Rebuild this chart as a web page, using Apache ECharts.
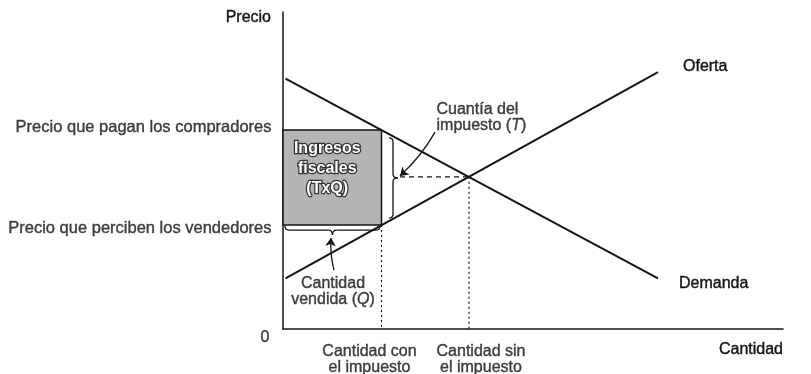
<!DOCTYPE html>
<html>
<head>
<meta charset="utf-8">
<script src="https://cdn.jsdelivr.net/npm/echarts@6/dist/echarts.min.js"></script>
<style>
  html, body { margin: 0; padding: 0; background: #fff; }
  #chart { width: 811px; height: 374px; }
</style>
</head>
<body>
<div id="chart"></div>
<script>
// curvas (unidades del eje: cantidad 0-100, precio 0-100)
const demandPts = [[0.5, 79], [75, 16]];
const supplyPts = [[0.5, 16], [75, 81]];

// puntos clave
const qTax = 19.7;      // cantidad con el impuesto
const qEq = 37.2;       // cantidad sin el impuesto
const pBuyers = 62.8;   // precio que pagan los compradores
const pSellers = 32.8;  // precio que perciben los vendedores
const pEq = 48;         // precio de equilibrio

// llaves: [x1, y1, x2, y2] (la punta queda a la derecha del recorrido)
const braces = [
  [22.0, 60.3, 22.0, 35.0],   // cuantia del impuesto (vertical)
  [19.4, 31.2, 0.4, 31.2]     // cantidad vendida (horizontal)
];
const braceTipX = 23.4;

// flechas: [desde, hasta]
const arrows = [
  [[30.4, 62.1], [23.4, 48.3]],
  [[10.2, 18.6], [9.6, 28.7]]
];

// textos
const priceLabels = ['Precio que pagan los compradores', 'Precio que perciben los vendedores'];
const qtyLabels = ['Cantidad con\nel impuesto', 'Cantidad sin\nel impuesto'];
const curveNames = ['Demanda', 'Oferta'];
const boxText = 'Ingresos\nfiscales\n(TxQ)';

const FONT = '"Liberation Sans", Arial, sans-serif';
const INK = '#141414';

const chart = echarts.init(document.getElementById('chart'));

function braceItem(params, api) {
  const p1 = api.coord([api.value(0), api.value(1)]);
  const p2 = api.coord([api.value(2), api.value(3)]);
  const dx = p2[0] - p1[0], dy = p2[1] - p1[1];
  const L = Math.sqrt(dx * dx + dy * dy);
  const u = [dx / L, dy / L];
  const n = [u[1], -u[0]];
  const m = L / 2;
  const P = (s, h) => [p1[0] + u[0] * s + n[0] * h, p1[1] + u[1] * s + n[1] * h];
  const style = { stroke: INK, lineWidth: 1.3, fill: null };
  const curve = (a, c, b) => ({
    type: 'bezierCurve',
    shape: { x1: a[0], y1: a[1], cpx1: c[0], cpy1: c[1], x2: b[0], y2: b[1] },
    style: style
  });
  const seg = (a, b) => ({
    type: 'line',
    shape: { x1: a[0], y1: a[1], x2: b[0], y2: b[1] },
    style: style
  });
  return {
    type: 'group',
    children: [
      curve(P(0, -4), P(0, 0), P(4, 0)),
      seg(P(4, 0), P(m - 4, 0)),
      curve(P(m - 4, 0), P(m, 0), P(m, 5)),
      curve(P(m, 5), P(m, 0), P(m + 4, 0)),
      seg(P(m + 4, 0), P(L - 4, 0)),
      curve(P(L - 4, 0), P(L, 0), P(L, -4))
    ]
  };
}

const textStyle = {
  fontFamily: FONT, fontSize: 16, color: INK,
  textBorderColor: INK, textBorderWidth: 0.4
};

chart.setOption({
  animation: false,
  backgroundColor: '#fff',
  grid: { left: 283, right: 28, top: 12, bottom: 45 },
  xAxis: {
    type: 'value', min: 0, max: 100,
    name: 'Cantidad',
    nameLocation: 'end',
    nameGap: 0,
    nameTextStyle: Object.assign({}, textStyle, { align: 'right', verticalAlign: 'top', padding: [13, 0, 0, 0] }),
    axisLine: { lineStyle: { color: INK, width: 1.5 } },
    axisTick: { show: false },
    axisLabel: { show: false },
    splitLine: { show: false }
  },
  yAxis: {
    type: 'value', min: 0, max: 100,
    name: 'Precio',
    nameLocation: 'end',
    nameGap: -6,
    nameTextStyle: Object.assign({}, textStyle, { align: 'right', verticalAlign: 'middle', padding: [0, 12, 0, 0] }),
    axisLine: { show: true, lineStyle: { color: INK, width: 1.5 } },
    axisTick: { show: false },
    axisLabel: { show: false },
    splitLine: { show: false }
  },
  series: [
    {
      name: curveNames[0], type: 'line', data: demandPts, symbol: 'none',
      lineStyle: { color: INK, width: 2 },
      endLabel: Object.assign({ show: true, formatter: curveNames[0], offset: [13, 5] }, textStyle)
    },
    {
      name: curveNames[1], type: 'line', data: supplyPts, symbol: 'none',
      lineStyle: { color: INK, width: 2 },
      endLabel: Object.assign({ show: true, formatter: curveNames[1], offset: [17, -6] }, textStyle)
    },
    {
      // linea punteada en la cantidad con el impuesto + caja de ingresos
      type: 'line', data: [[qTax, pSellers], [qTax, 0]], symbol: 'none',
      lineStyle: { color: INK, width: 1.2, type: [2, 3] },
      markArea: {
        silent: true,
        itemStyle: { color: '#b4b4b4', borderColor: INK, borderWidth: 1.5 },
        label: {
          show: true, position: 'inside', offset: [-5, -9],
          formatter: boxText,
          fontFamily: FONT, fontSize: 16, fontWeight: 'bold', lineHeight: 20,
          color: '#fff', textBorderColor: '#333', textBorderWidth: 2.5
        },
        data: [[{ coord: [0, pSellers] }, { coord: [qTax, pBuyers] }]]
      }
    },
    {
      type: 'line', data: [[braceTipX, pEq], [qEq, pEq]], symbol: 'none',
      lineStyle: { color: INK, width: 1.2, type: [5, 4] }
    },
    {
      type: 'line', data: [[qEq, pEq], [qEq, 0]], symbol: 'none',
      lineStyle: { color: INK, width: 1.2, type: [2, 3] }
    },
    {
      type: 'custom', renderItem: braceItem, data: braces,
      encode: { x: [0, 2], y: [1, 3] }, silent: true
    },
    {
      type: 'lines', coordinateSystem: 'cartesian2d', silent: true,
      symbol: ['none', 'arrow'], symbolSize: 8,
      lineStyle: { color: INK, width: 1.3, opacity: 1, curveness: 0.08 },
      data: arrows.map(a => ({ coords: a }))
    },
    {
      // textos anclados a los ejes
      type: 'scatter', symbolSize: 1, itemStyle: { color: 'rgba(0,0,0,0)' }, silent: true,
      data: [
        { value: [0, pBuyers], name: priceLabels[0],
          label: { position: 'left', distance: 11, offset: [0, -2], fontSize: 16.5 } },
        { value: [0, pSellers], name: priceLabels[1],
          label: { position: 'left', distance: 11, offset: [0, 3], fontSize: 16.5 } },
        { value: [qTax, 0], name: qtyLabels[0],
          label: { position: 'bottom', distance: 14, lineHeight: 16, offset: [-12, 0] } },
        { value: [qEq, 0], name: qtyLabels[1],
          label: { position: 'bottom', distance: 14, lineHeight: 16, offset: [12, 0] } },
        { value: [0, 0], name: '0',
          label: { position: 'left', distance: 13, offset: [0, 9] } },
        { value: [30.6, 66.6], name: 'Cuantía del\nimpuesto ({i|T})',
          label: { position: 'right', distance: 0, lineHeight: 16, align: 'left' } },
        { value: [10, 11.7], name: 'Cantidad\nvendida ({i|Q})',
          label: { position: 'inside', lineHeight: 16, align: 'center' } }
      ],
      label: Object.assign({
        show: true, formatter: '{b}',
        rich: { i: { fontFamily: FONT, fontSize: 16, fontStyle: 'italic', color: INK, textBorderColor: INK, textBorderWidth: 0.4 } }
      }, textStyle)
    }
  ]
});
</script>
</body>
</html>
